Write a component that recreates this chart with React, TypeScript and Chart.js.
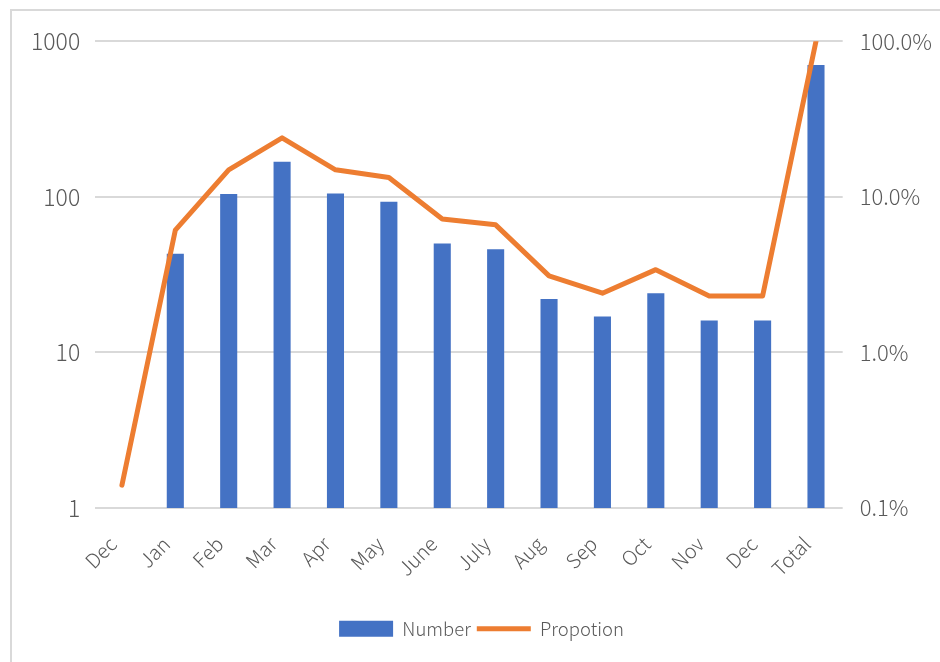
import React, { useEffect, useRef } from "react";
import { Chart, registerables } from "chart.js";

Chart.register(...registerables);

const categories = ["Dec", "Jan", "Feb", "Mar", "Apr", "May", "June", "July", "Aug", "Sep", "Oct", "Nov", "Dec", "Total"];
const numberValues = [1, 43, 104, 168, 105, 93, 50, 46, 22, 17, 24, 16, 16, 704];
const proportionValues = [0.0014, 0.061, 0.149, 0.239, 0.149, 0.133, 0.072, 0.066, 0.031, 0.024, 0.034, 0.023, 0.023, 1.0];
const leftTicks = [1, 10, 100, 1000];
const rightTicks = [0.001, 0.01, 0.1, 1];

const FONT = "'Noto Sans CJK SC', 'Noto Sans', sans-serif";
const TEXT = "#595959";

export default function App() {
  const ref = useRef<HTMLCanvasElement>(null);
  useEffect(() => {
    if (!ref.current) return;
    const chart = new Chart(ref.current, {
      data: {
        labels: categories,
        datasets: [
          {
            type: "line",
            label: "Propotion",
            data: proportionValues,
            yAxisID: "y1",
            borderColor: "#ED7D31",
            backgroundColor: "#ED7D31",
            borderWidth: 5,
            borderCapStyle: "round",
            borderJoinStyle: "round",
            pointRadius: 0,
            pointStyle: "line",
            tension: 0,
            order: 0,
          },
          {
            type: "bar",
            label: "Number",
            data: numberValues,
            yAxisID: "y",
            backgroundColor: "#4472C4",
            borderWidth: 0,
            pointStyle: "rect",
            categoryPercentage: 1,
            barPercentage: 0.32,
            order: 1,
          },
        ],
      } as any,
      options: {
        responsive: false,
        animation: false,
        layout: { padding: { top: 9, left: 19, right: 8, bottom: 14 } },
        plugins: {
          tooltip: { enabled: false },
          legend: {
            position: "bottom",
            reverse: true,
            labels: {
              usePointStyle: true,
              pointStyleWidth: 54,
              boxHeight: 16,
              padding: 6,
              color: TEXT,
              font: { family: FONT, size: 18.5, weight: "300" },
            },
          },
        },
        scales: {
          x: {
            offset: true,
            grid: { display: false, drawTicks: false },
            border: { display: false },
            afterFit: (s: any) => {
              s.paddingLeft = 0;
              s.paddingRight = 0;
              s.height += 9;
            },
            ticks: {
              color: TEXT,
              font: { family: FONT, size: 20, weight: "300" },
              maxRotation: 45,
              minRotation: 45,
              autoSkip: false,
              padding: 24,
              labelOffset: -9,
            },
          },
          y: {
            type: "logarithmic",
            position: "left",
            min: 1,
            max: 1000,
            afterBuildTicks: (s: any) => {
              s.ticks = leftTicks.map((v) => ({ value: v }));
            },
            afterFit: (s: any) => {
              s.width -= 15;
            },
            grid: { color: "#d9d9d9", lineWidth: 2, drawTicks: false },
            border: { display: false },
            ticks: {
              color: TEXT,
              font: { family: FONT, size: 23, weight: "300" },
              padding: 15,
              callback: (v: any) => String(v),
            },
          },
          y1: {
            type: "logarithmic",
            position: "right",
            min: 0.001,
            max: 1,
            afterBuildTicks: (s: any) => {
              s.ticks = rightTicks.map((v) => ({ value: v }));
            },
            afterFit: (s: any) => {
              s.width -= 17;
            },
            grid: { display: false, drawOnChartArea: false, drawTicks: false },
            border: { display: false },
            ticks: {
              color: TEXT,
              font: { family: FONT, size: 22, weight: "300" },
              padding: 17,
              callback: (v: any) => (Number(v) * 100).toFixed(1) + "%",
            },
          },
        },
      } as any,
    });
    return () => chart.destroy();
  }, []);
  return (
    <div
      style={{
        position: "absolute",
        left: 10,
        top: 9,
        width: 930,
        height: 653,
        borderLeft: "2px solid #d9d9d9",
        borderTop: "2px solid #d9d9d9",
        boxSizing: "border-box",
        background: "#fff",
        overflow: "hidden",
      }}
    >
      <canvas ref={ref} width={928} height={651} style={{ display: "block" }} />
    </div>
  );
}
